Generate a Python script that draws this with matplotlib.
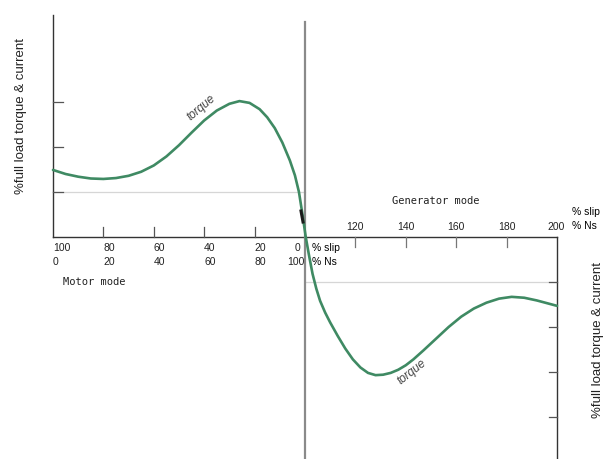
import numpy as np
import matplotlib as mpl
mpl.use('Agg')
import matplotlib.pyplot as plt

# speed in % of synchronous speed (Ns) and torque in units of full load
speed = [0, 5, 10, 15, 20, 25, 30, 35, 40, 45, 50, 55, 60, 65, 70, 74, 78, 82, 85,
         88, 91, 94, 96, 97.6, 99, 100.3,
         101.5, 103, 104.5, 106, 108, 110, 113, 116, 119, 122, 125, 128, 131, 134,
         137, 140, 143, 147, 152, 157, 162, 167, 172, 177, 182, 187, 192, 196, 200]
torque = [1.49, 1.40, 1.34, 1.30, 1.29, 1.31, 1.36, 1.45, 1.59, 1.79, 2.04, 2.32, 2.59,
          2.81, 2.96, 3.02, 2.98, 2.84, 2.66, 2.42, 2.10, 1.70, 1.37, 1.0, 0.5, 0.0,
          -0.38, -0.82, -1.15, -1.42, -1.68, -1.90, -2.20, -2.48, -2.72, -2.90, -3.02,
          -3.07, -3.06, -3.02, -2.95, -2.85, -2.72, -2.52, -2.26, -2.00, -1.77, -1.59,
          -1.46, -1.37, -1.33, -1.35, -1.41, -1.47, -1.53]

motor_ns = [0, 20, 40, 60, 80, 100]
motor_slip = ['100', '80', '60', '40', '20', '0']
motor_ns_lbl = ['0', '20', '40', '60', '80', '100']
gen_ns = [120, 140, 160, 180, 200]
left_yticks = [1, 2, 3]
right_yticks = [-1, -2, -3, -4]

# pixel mapping: x = 53 + 2.52*Ns ; y = 237 - 45*T
W, H = 610, 459
def px_x(p):
    return (p - 53) / 2.52
def px_y(p):
    return (237 - p) / 45.0

fig = plt.figure(figsize=(6.1, 4.59), dpi=100)
ax = fig.add_axes([0, 0, 1, 1])
ax.set_xlim(px_x(0), px_x(W))
ax.set_ylim(px_y(H), px_y(0))
ax.axis('off')

dx = 2.52  # px per unit
dy = 45.0

# light reference lines at +/- full load
ax.plot([0, 100], [1, 1], color='#d6d6d6', lw=0.9)
ax.plot([100, 200], [-1, -1], color='#d6d6d6', lw=0.9)

# axes lines
ax.plot([0, 0], [0, px_y(15)], color='#333333', lw=1.0)
ax.plot([0, 100], [0, 0], color='#333333', lw=1.0)
ax.plot([100, 200], [0, 0], color='#333333', lw=1.0)
ax.plot([200, 200], [0, px_y(H)], color='#333333', lw=1.0)
ax.plot([100, 100], [px_y(22), px_y(H)], color='#8a8a8a', lw=1.6)

# ticks
for x in motor_ns[1:-1]:
    ax.plot([x, x], [0, 10 / dy], color='#555555', lw=0.9)
for x in gen_ns[:-1]:
    ax.plot([x, x], [0, -10 / dy], color='#777777', lw=0.9)
for y in left_yticks:
    ax.plot([0, 10 / dx], [y, y], color='#555555', lw=0.9)
for y in right_yticks:
    ax.plot([200, 200 - 8 / dx], [y, y], color='#555555', lw=0.9)

# torque curve
ax.plot(speed, torque, color='#3f8a63', lw=1.9, solid_capstyle='round', solid_joinstyle='round')
ax.plot([px_x(301), px_x(303)], [px_y(211), px_y(222)], color='#1a1a1a', lw=2.2)

# tick labels
fs = 7.5
for x, s, n in zip(motor_ns, motor_slip, motor_ns_lbl):
    xp = x if x < 100 else px_x(300)
    ax.text(xp, px_y(248), s, fontsize=fs, ha='left' if x < 100 else 'right', va='center',
            family='Liberation Sans', color='#222222')
    ax.text(x if x < 100 else px_x(305), px_y(262), n, fontsize=fs,
            ha='left' if x < 100 else 'right', va='center', family='Liberation Sans', color='#222222')
for x in gen_ns:
    ax.text(x if x < 200 else px_x(556), px_y(227), str(x), fontsize=fs, ha='center',
            va='center', family='Liberation Sans', color='#222222')
ax.text(px_x(312), px_y(248), '% slip', fontsize=fs, va='center', family='Liberation Sans')
ax.text(px_x(312), px_y(262), '% Ns', fontsize=fs, va='center', family='Liberation Sans')
ax.text(px_x(572), px_y(212), '% slip', fontsize=fs, va='center', family='Liberation Sans')
ax.text(px_x(572), px_y(226), '% Ns', fontsize=fs, va='center', family='Liberation Sans')

ax.text(px_x(63), px_y(282), 'Motor mode', fontsize=7.5, va='center', family='DejaVu Sans Mono',
        color='#222222')
ax.text(px_x(436), px_y(201), 'Generator mode', fontsize=7.5, ha='center', va='center',
        family='DejaVu Sans Mono', color='#222222')

ax.text(px_x(201), px_y(108), 'torque', fontsize=8.5, rotation=40, ha='center', va='center',
        style='italic', color='#444444', family='Liberation Sans')
ax.text(px_x(412), px_y(372), 'torque', fontsize=8.5, rotation=38, ha='center', va='center',
        style='italic', color='#444444', family='Liberation Sans')

ax.text(px_x(21), px_y(116), '%full load torque & current', fontsize=9.5, rotation=90,
        ha='center', va='center', family='Liberation Sans', color='#222222')
ax.text(px_x(598), px_y(340), '%full load torque & current', fontsize=9.5, rotation=90,
        ha='center', va='center', family='Liberation Sans', color='#222222')

plt.savefig('out.png', dpi=100)
